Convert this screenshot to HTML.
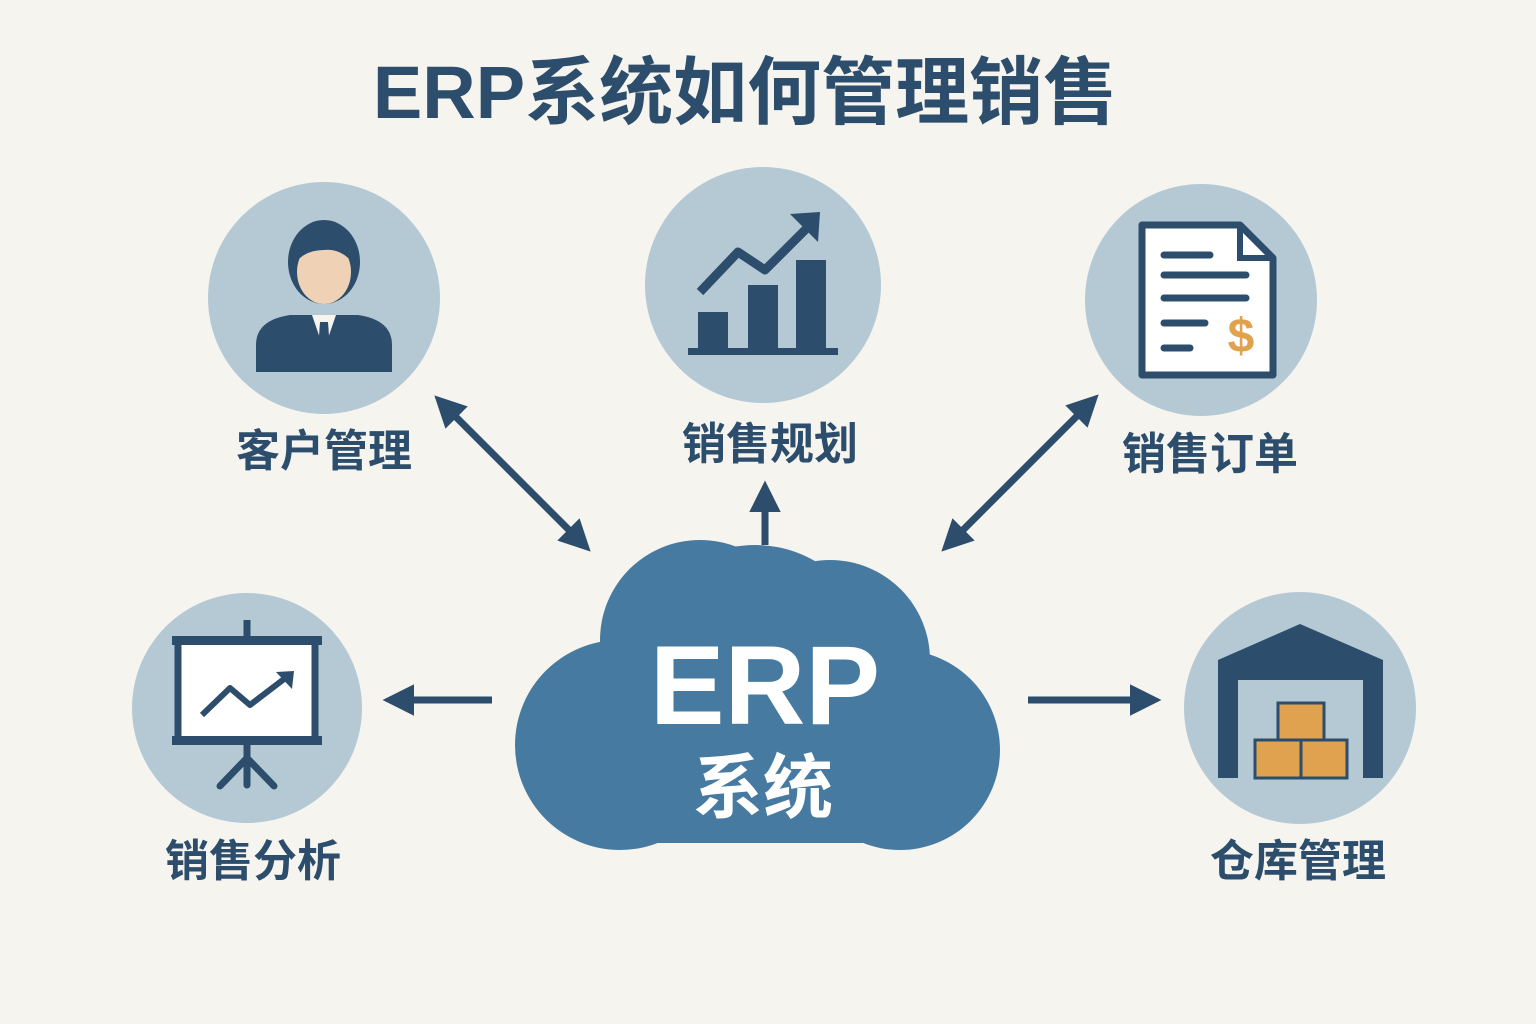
<!DOCTYPE html>
<html><head><meta charset="utf-8"><style>
html,body{margin:0;padding:0;background:#f6f4ef;}
svg{display:block}
text{font-family:"Liberation Sans","Noto Sans CJK SC",sans-serif;font-weight:bold}
</style></head><body>
<svg width="1536" height="1024" viewBox="0 0 1536 1024" xmlns="http://www.w3.org/2000/svg">
<rect width="1536" height="1024" fill="#f6f4ef"/>
<defs>
<marker id="ah" viewBox="0 0 10 10" refX="7" refY="5" markerWidth="4.5" markerHeight="4.5" orient="auto-start-reverse">
<path d="M0,0 L10,5 L0,10 z" fill="#2c4d6b"/></marker>
</defs>
<text x="745" y="118" font-size="74" fill="#2c4d6b" text-anchor="middle">ERP系统如何管理销售</text>

<!-- circles -->
<g fill="#b5c9d5">
<circle cx="324" cy="298" r="116"/>
<circle cx="763" cy="285" r="118"/>
<circle cx="1201" cy="300" r="116"/>
<circle cx="247" cy="708" r="115"/>
<circle cx="1300" cy="708" r="116"/>
</g>

<!-- person icon -->
<path d="M256,372 L256,345 Q256,320 290,315 L358,315 Q392,320 392,345 L392,372 Z" fill="#2c4d6b"/>
<path d="M312,315 L324,350 L336,315 Z" fill="#f6f4ef"/>
<path d="M320,322 L328,322 L330,350 L324,356 L318,350 Z" fill="#2c4d6b"/>
<ellipse cx="324" cy="262" rx="36" ry="42" fill="#2c4d6b"/>
<ellipse cx="324" cy="272" rx="27" ry="32" fill="#efd2b6"/>
<path d="M296,262 Q300,236 324,236 Q350,236 352,262 Q340,248 324,250 Q306,250 296,262 Z" fill="#2c4d6b"/>

<!-- chart icon -->
<g fill="#2c4d6b">
<rect x="698" y="312" width="30" height="40"/>
<rect x="748" y="285" width="30" height="67"/>
<rect x="796" y="260" width="30" height="92"/>
<rect x="688" y="348" width="150" height="7"/>
</g>
<polyline points="700,292 738,252 765,270 810,225" fill="none" stroke="#2c4d6b" stroke-width="9" stroke-linejoin="round"/>
<path d="M790,214 L820,212 L818,242 Z" fill="#2c4d6b"/>

<!-- document icon -->
<path d="M1142,225 L1240,225 L1273,258 L1273,375 L1142,375 Z" fill="#fff" stroke="#2c4d6b" stroke-width="7" stroke-linejoin="round"/>
<path d="M1240,225 L1240,258 L1273,258" fill="none" stroke="#2c4d6b" stroke-width="6"/>
<g stroke="#2c4d6b" stroke-width="7" stroke-linecap="round">
<line x1="1164" y1="255" x2="1210" y2="255"/>
<line x1="1164" y1="275" x2="1246" y2="275"/>
<line x1="1164" y1="298" x2="1246" y2="298"/>
<line x1="1164" y1="323" x2="1205" y2="323"/>
<line x1="1164" y1="348" x2="1190" y2="348"/>
</g>
<text x="1241" y="352" font-size="48" fill="#e0a24f" text-anchor="middle">$</text>

<!-- presentation icon -->
<rect x="178" y="640" width="137" height="100" fill="#fff" stroke="#2c4d6b" stroke-width="7"/>
<rect x="172" y="636" width="150" height="9" fill="#2c4d6b"/>
<rect x="172" y="736" width="150" height="9" fill="#2c4d6b"/>
<line x1="247" y1="620" x2="247" y2="636" stroke="#2c4d6b" stroke-width="7"/>
<g stroke="#2c4d6b" stroke-width="7" stroke-linecap="round">
<line x1="247" y1="745" x2="247" y2="785"/>
<line x1="247" y1="758" x2="220" y2="786"/>
<line x1="247" y1="758" x2="274" y2="786"/>
</g>
<polyline points="202,715 230,688 250,705 288,676" fill="none" stroke="#2c4d6b" stroke-width="6" stroke-linejoin="round"/>
<path d="M276,672 L294,671 L292,689 Z" fill="#2c4d6b"/>

<!-- warehouse icon -->
<path d="M1218,660 L1300,624 L1383,660 L1383,778 L1363,778 L1363,680 L1238,680 L1238,778 L1218,778 Z" fill="#2c4d6b"/>
<g fill="#e0a24f" stroke="#2c4d6b" stroke-width="3">
<rect x="1278" y="703" width="46" height="38"/>
<rect x="1255" y="740" width="46" height="38"/>
<rect x="1301" y="740" width="46" height="38"/>
</g>

<!-- labels -->
<g font-size="44" fill="#2c4d6b" text-anchor="middle">
<text x="324" y="466">客户管理</text>
<text x="770" y="459">销售规划</text>
<text x="1210" y="469">销售订单</text>
<text x="253" y="876">销售分析</text>
<text x="1298" y="876">仓库管理</text>
</g>

<!-- cloud -->
<g fill="#477aa0">
<circle cx="755" cy="665" r="120"/>
<circle cx="620" cy="745" r="105"/>
<circle cx="900" cy="750" r="100"/>
<rect x="560" y="700" width="400" height="143" rx="70"/>
<circle cx="700" cy="640" r="100"/>
<circle cx="830" cy="660" r="100"/>
</g>
<text x="765" y="724" font-size="112" fill="#fff" text-anchor="middle">ERP</text>
<text x="763" y="812" font-size="70" fill="#fff" text-anchor="middle">系统</text>

<!-- arrows -->
<g stroke="#2c4d6b" stroke-width="7" fill="none">
<line x1="441" y1="402" x2="584" y2="545" marker-start="url(#ah)" marker-end="url(#ah)"/>
<line x1="1092" y1="401" x2="948" y2="545" marker-start="url(#ah)" marker-end="url(#ah)"/>
<line x1="765" y1="545" x2="765" y2="490" marker-end="url(#ah)"/>
<line x1="492" y1="700" x2="392" y2="700" marker-end="url(#ah)"/>
<line x1="1028" y1="700" x2="1152" y2="700" marker-end="url(#ah)"/>
</g>
</svg>
</body></html>
